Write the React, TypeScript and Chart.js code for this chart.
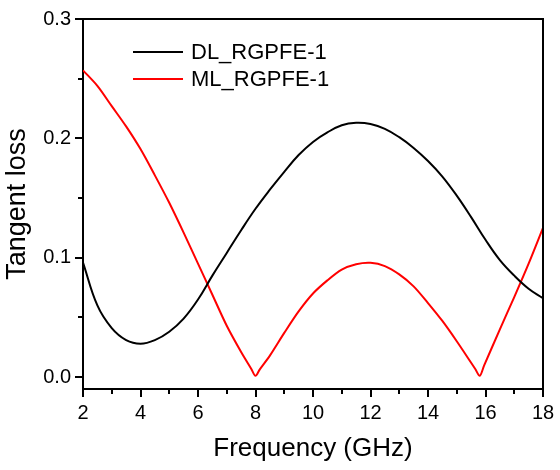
import React, { useEffect, useRef } from "react";
import { Chart, registerables } from "chart.js";

Chart.register(...registerables);

// Frequency (GHz) grid for DL_RGPFE-1
const dlFreq = [2, 2.5, 3, 3.5, 4, 4.5, 5, 5.5, 6, 6.5, 7, 7.5, 8, 8.5, 9, 9.5, 10, 10.5, 11, 11.5, 12, 12.5, 13, 13.5, 14, 14.5, 15, 15.5, 16, 16.5, 17, 17.5, 18];
const dlLoss = [0.096, 0.06, 0.041, 0.031, 0.028, 0.031, 0.038, 0.049, 0.065, 0.085, 0.104, 0.123, 0.141, 0.157, 0.172, 0.186, 0.197, 0.205, 0.211, 0.213, 0.212, 0.208, 0.201, 0.192, 0.181, 0.168, 0.152, 0.134, 0.115, 0.098, 0.085, 0.074, 0.066];

// Frequency (GHz) grid for ML_RGPFE-1
const mlFreq = [2, 2.5, 3, 3.5, 4, 4.5, 5, 5.5, 6, 6.5, 7, 7.5, 7.85, 8, 8.15, 8.5, 9, 9.5, 10, 10.5, 11, 11.5, 12, 12.5, 13, 13.5, 14, 14.5, 15, 15.5, 15.65, 15.8, 15.95, 16.5, 17, 17.5, 18];
const mlLoss = [0.257, 0.244, 0.227, 0.21, 0.191, 0.169, 0.146, 0.121, 0.095, 0.069, 0.043, 0.021, 0.007, 0.001, 0.0065, 0.018, 0.037, 0.055, 0.07, 0.081, 0.09, 0.0945, 0.0957, 0.093, 0.086, 0.076, 0.062, 0.047, 0.03, 0.012, 0.0065, 0.001, 0.0095, 0.04, 0.067, 0.095, 0.125];

const seriesNames = ["DL_RGPFE-1", "ML_RGPFE-1"];
const seriesColors = ["#000000", "#ff0000"];

const xTicks = [2, 4, 6, 8, 10, 12, 14, 16, 18];
const xMinorTicks = [3, 5, 7, 9, 11, 13, 15, 17];
const yTicks = [0.0, 0.1, 0.2, 0.3];
const yMinorTicks = [0.05, 0.15, 0.25];

const FONT = "'Liberation Sans', Arial, Helvetica, sans-serif";

const framePlugin = {
  id: "frameAndLegend",
  afterDraw(chart: any) {
    const { ctx, chartArea, scales } = chart;
    const { left, right, top, bottom } = chartArea;
    ctx.save();
    ctx.strokeStyle = "#000";
    ctx.lineWidth = 2;
    // frame top/right
    ctx.beginPath();
    ctx.moveTo(left - 1, top);
    ctx.lineTo(right, top);
    ctx.lineTo(right, bottom + 1);
    ctx.stroke();
    // ticks (major 7px, minor 4px, outward)
    ctx.beginPath();
    for (const v of xTicks) {
      const px = Math.round(scales.x.getPixelForValue(v));
      ctx.moveTo(px, bottom);
      ctx.lineTo(px, bottom + 8);
    }
    for (const v of xMinorTicks) {
      const px = Math.round(scales.x.getPixelForValue(v));
      ctx.moveTo(px, bottom);
      ctx.lineTo(px, bottom + 5);
    }
    for (const v of yTicks) {
      const py = Math.round(scales.y.getPixelForValue(v));
      ctx.moveTo(left, py);
      ctx.lineTo(left - 8, py);
    }
    for (const v of yMinorTicks) {
      const py = Math.round(scales.y.getPixelForValue(v));
      ctx.moveTo(left, py);
      ctx.lineTo(left - 5, py);
    }
    ctx.stroke();
    // legend
    ctx.font = `22px ${FONT}`;
    ctx.textBaseline = "middle";
    ctx.textAlign = "left";
    seriesNames.forEach((name, i) => {
      const y = top + 33 + i * 27;
      ctx.strokeStyle = seriesColors[i];
      ctx.lineWidth = 2;
      ctx.beginPath();
      ctx.moveTo(left + 50, y);
      ctx.lineTo(left + 100, y);
      ctx.stroke();
      ctx.fillStyle = "#000";
      ctx.fillText(name, left + 108, y + 1);
    });
    ctx.restore();
  },
};

export default function App() {
  const canvasRef = useRef<HTMLCanvasElement | null>(null);

  useEffect(() => {
    document.body.style.margin = "0";
    const canvas = canvasRef.current;
    if (!canvas) return;
    const chart = new Chart(canvas, {
      type: "line",
      data: {
        datasets: [
          {
            label: seriesNames[0],
            data: dlFreq.map((f, i) => ({ x: f, y: dlLoss[i] })),
            borderColor: seriesColors[0],
            borderWidth: 2,
            pointRadius: 0,
            tension: 0.4,
            fill: false,
          },
          {
            label: seriesNames[1],
            data: mlFreq.map((f, i) => ({ x: f, y: mlLoss[i] })),
            borderColor: seriesColors[1],
            borderWidth: 2,
            pointRadius: 0,
            tension: 0.3,
            fill: false,
          },
        ],
      },
      options: {
        animation: false,
        responsive: false,
        events: [],
        layout: { padding: { top: 19, right: 17, left: 0, bottom: 0 } },
        plugins: {
          legend: { display: false },
          tooltip: { enabled: false },
        },
        scales: {
          x: {
            type: "linear",
            min: 2,
            max: 18,
            afterBuildTicks: (scale: any) => {
              scale.ticks = xTicks.map((v) => ({ value: v }));
            },
            afterFit: (scale: any) => {
              scale.height = 81;
            },
            ticks: {
              color: "#000",
              font: { family: FONT, size: 20 },
              padding: 5,
              maxRotation: 0,
              autoSkip: false,
              callback: (v: any) => String(v),
            },
            grid: {
              drawOnChartArea: false,
              drawTicks: true,
              tickLength: 7,
              tickWidth: 2,
              color: "rgba(0,0,0,0)",
            },
            border: { display: true, color: "#000", width: 2 },
            title: {
              display: true,
              text: "Frequency (GHz)",
              color: "#000",
              font: { family: FONT, size: 26 },
              padding: { top: 0, bottom: 6 },
            },
          },
          y: {
            type: "linear",
            min: -0.01,
            max: 0.3,
            afterBuildTicks: (scale: any) => {
              scale.ticks = yTicks.map((v) => ({ value: v }));
            },
            afterFit: (scale: any) => {
              scale.width = 83;
            },
            ticks: {
              color: "#000",
              font: { family: FONT, size: 20 },
              padding: 5,
              autoSkip: false,
              callback: (v: any) => Number(v).toFixed(1),
            },
            grid: {
              drawOnChartArea: false,
              drawTicks: true,
              tickLength: 7,
              tickWidth: 2,
              color: "rgba(0,0,0,0)",
            },
            border: { display: true, color: "#000", width: 2 },
            title: {
              display: true,
              text: "Tangent loss",
              color: "#000",
              font: { family: FONT, size: 27 },
              padding: { top: 1, bottom: 0 },
            },
          },
        },
      },
      plugins: [framePlugin],
    } as any);
    return () => chart.destroy();
  }, []);

  return (
    <div style={{ width: 560, height: 470, background: "#fff" }}>
      <canvas ref={canvasRef} width={560} height={470} style={{ display: "block" }} />
    </div>
  );
}
